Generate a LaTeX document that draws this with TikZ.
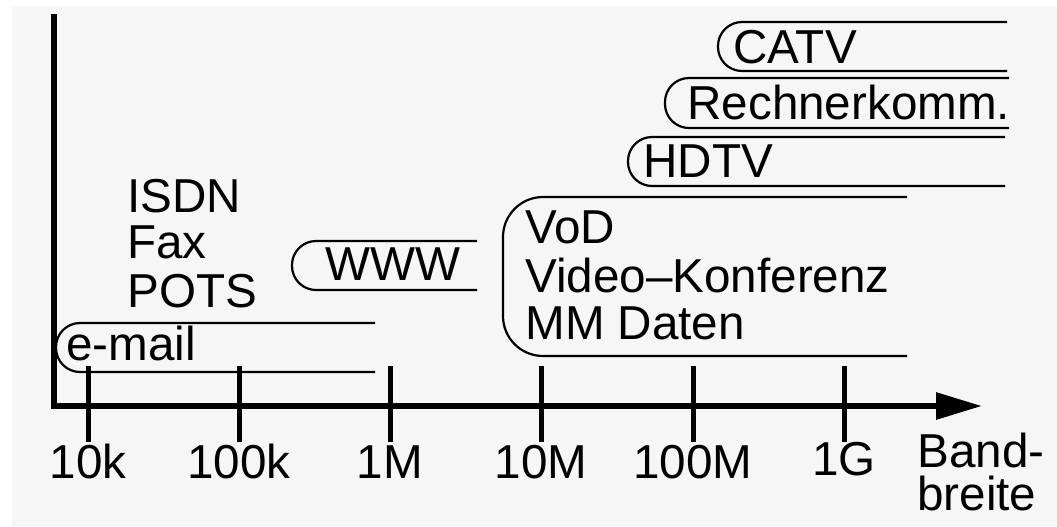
\documentclass[tikz,border=0pt]{standalone}
\usepackage{fontspec}
\setmainfont{Liberation Sans}
\usetikzlibrary{arrows.meta}
\definecolor{bggray}{HTML}{F6F6F6}
\begin{document}
\begin{tikzpicture}[x=0.5pt,y=-0.5pt,
  lbl/.style={inner sep=0pt,anchor=base west,font=\fontsize{23.8}{25}\selectfont},
  ticklbl/.style={inner sep=0pt,anchor=base,font=\fontsize{23.8}{25}\selectfont},
  band/.style={line width=1.1pt,rounded corners=12pt},
  bigband/.style={line width=1.1pt,rounded corners=20pt},
  axisline/.style={line width=3pt},
  tickline/.style={line width=2.5pt}]
\useasboundingbox (0,0) rectangle (1057,526);
\fill[white] (0,0) rectangle (1057,526);
\fill[bggray] (12,6) rectangle (1057,526);
% axes
\coordinate (top) at (54,14);
\coordinate (origin) at (54,406);
\coordinate (tip) at (982,406);
\draw[axisline,-{Triangle[length=23pt,width=13pt]}] (top) -- (origin) -- (tip);
% ticks and labels
\foreach \x/\t/\n in {88/10k/a,239/100k/b,390/1M/c,541/10M/d,693/100M/e}{
  \draw[tickline] (\x,366) -- (\x,442);
  \node[ticklbl] (t\n) at (\x,478) {\t};
}
\draw[tickline] (844,366) -- (844,442);
\node[ticklbl] (tf) at (844,475) {1G};
\node[lbl] (band1) at (917,467) {Band-};
\node[lbl] (band2) at (917,510) {breite};
% bands
\draw[band] (375,323) -- (56,323) -- (56,372) -- (375,372);
\node[lbl] (email) at (66,360) {e-mail};
\node[lbl] (isdn) at (127,212) {ISDN};
\node[lbl] (fax) at (127,258) {Fax};
\node[lbl] (pots) at (127,307) {POTS};
\draw[band] (477,241) -- (292,241) -- (292,290) -- (477,290);
\node[lbl] (www) at (325,280) {WWW};
\draw[bigband] (907,197) -- (503,197) -- (503,356) -- (907,356);
\node[lbl] (vod) at (525,243) {VoD};
\node[lbl] (video) at (525,292) {Video–Konferenz};
\node[lbl] (mm) at (525,339) {MM Daten};
\draw[band] (1005,137) -- (628,137) -- (628,186) -- (1005,186);
\node[lbl] (hdtv) at (643,177) {HDTV};
\draw[band] (1009,78) -- (665,78) -- (665,128) -- (1009,128);
\node[lbl] (rk) at (687,119) {Rechnerkomm.};
\draw[band] (1007,22) -- (718,22) -- (718,71) -- (1007,71);
\node[lbl] (catv) at (733,63) {CATV};
\end{tikzpicture}
\end{document}
